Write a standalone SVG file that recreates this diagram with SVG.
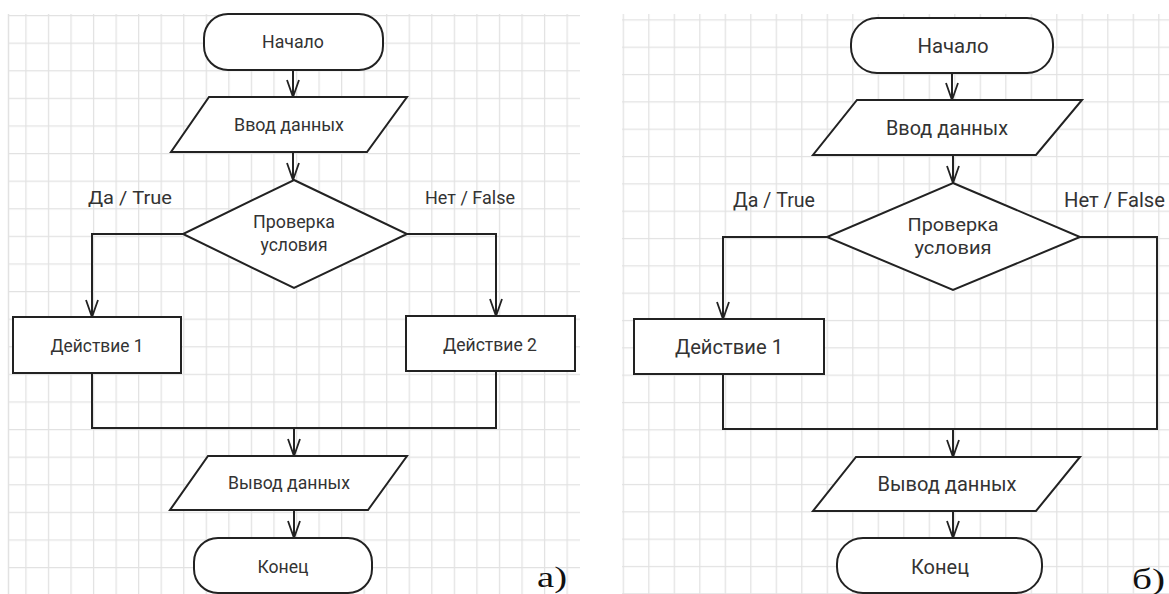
<svg xmlns="http://www.w3.org/2000/svg" width="1169" height="594" viewBox="0 0 1169 594">
<style>
.shape{fill:#fff;stroke:#222;stroke-width:2}
.conn{fill:none;stroke:#222;stroke-width:2}
.t{font-family:Roboto,"Liberation Sans",sans-serif;fill:#333;text-anchor:middle}
.ta{font-size:19px}
.tb{font-size:21px}
.tc{font-size:19px}
.lbl{font-family:Roboto,"Liberation Sans",sans-serif;fill:#333}
.ser{font-family:"Liberation Serif",serif;font-size:30px;fill:#111}
</style>
<defs>
<pattern id="gridA" patternUnits="userSpaceOnUse" x="2.75" y="15" width="22.55" height="27.6">
<path d="M0.5,0 V27.6 M0,0.5 H22.55" fill="none" stroke="#e2e2e2" stroke-width="1.5"/>
</pattern>
<pattern id="gridB" patternUnits="userSpaceOnUse" x="622.7" y="19.3" width="25.5" height="27.33">
<path d="M0.5,0 V27.33 M0,0.5 H25.5" fill="none" stroke="#e2e2e2" stroke-width="1.5"/>
</pattern>
<marker id="arr" markerUnits="userSpaceOnUse" viewBox="-20 -10 22 20" markerWidth="22" markerHeight="20" refX="0" refY="0" orient="auto" overflow="visible">
<path d="M-17,-6 L0,0 L-17,6" fill="none" stroke="#222" stroke-width="1.8"/>
</marker>
</defs>
<rect width="1169" height="594" fill="#fff"/>
<g id="grid">
<rect x="8" y="14" width="572" height="580" fill="url(#gridA)"/>
<line x1="8.5" y1="14" x2="8.5" y2="594" stroke="#e2e2e2" stroke-width="1.5"/>
<rect x="622" y="14" width="547" height="580" fill="url(#gridB)"/>
</g>
<g id="connectors">
<path class="conn" d="M293,70 V97" marker-end="url(#arr)"/>
<path class="conn" d="M293,152 V180" marker-end="url(#arr)"/>
<path class="conn" d="M183,234 H92 V317" marker-end="url(#arr)"/>
<path class="conn" d="M407,234 H496 V316" marker-end="url(#arr)"/>
<path class="conn" d="M92,373 V428 H496 V371"/>
<path class="conn" d="M294,428 V456" marker-end="url(#arr)"/>
<path class="conn" d="M294,510 V538" marker-end="url(#arr)"/>
<path class="conn" d="M952,73 V100" marker-end="url(#arr)"/>
<path class="conn" d="M953,155 V183" marker-end="url(#arr)"/>
<path class="conn" d="M827,237 H723 V319" marker-end="url(#arr)"/>
<path class="conn" d="M1080,237 H1157 V429 H953"/>
<path class="conn" d="M723,374 V429 H953"/>
<path class="conn" d="M953,429 V457" marker-end="url(#arr)"/>
<path class="conn" d="M953,511 V538" marker-end="url(#arr)"/>
</g>
<g id="a-start"><rect class="shape" x="204" y="14" width="179" height="56" rx="24"/><text class="t ta" x="293" y="48" textLength="62" lengthAdjust="spacingAndGlyphs">Начало</text></g>
<g id="a-input"><polygon class="shape" points="209,97 407,97 367,152 171,152"/><text class="t ta" x="289" y="131" textLength="110" lengthAdjust="spacingAndGlyphs">Ввод данных</text></g>
<g id="a-cond"><polygon class="shape" points="294,180 407,234 294,288 183,234"/><text class="t tc" x="294" y="228" textLength="82" lengthAdjust="spacingAndGlyphs">Проверка</text><text class="t tc" x="294" y="251" textLength="67" lengthAdjust="spacingAndGlyphs">условия</text></g>
<g id="a-act1"><rect class="shape" x="13" y="317" width="168" height="56"/><text class="t ta" x="97" y="352" textLength="93" lengthAdjust="spacingAndGlyphs">Действие 1</text></g>
<g id="a-act2"><rect class="shape" x="406" y="316" width="169" height="55"/><text class="t ta" x="490" y="351" textLength="94" lengthAdjust="spacingAndGlyphs">Действие 2</text></g>
<g id="a-output"><polygon class="shape" points="208,456 407,456 368,510 170,510"/><text class="t ta" x="289" y="489" textLength="122" lengthAdjust="spacingAndGlyphs">Вывод данных</text></g>
<g id="a-end"><rect class="shape" x="194" y="538" width="178" height="55" rx="24"/><text class="t ta" x="283" y="573" textLength="51" lengthAdjust="spacingAndGlyphs">Конец</text></g>
<text class="lbl ta" x="88" y="204" textLength="84" lengthAdjust="spacingAndGlyphs">Да / True</text>
<text class="lbl ta" x="425" y="204" textLength="90" lengthAdjust="spacingAndGlyphs">Нет / False</text>
<text class="ser" x="537" y="587" textLength="30" lengthAdjust="spacingAndGlyphs">а)</text>
<g id="b-start"><rect class="shape" x="851" y="18" width="202" height="55" rx="26"/><text class="t tb" x="953" y="53" textLength="71" lengthAdjust="spacingAndGlyphs">Начало</text></g>
<g id="b-input"><polygon class="shape" points="857,100 1082,100 1036,155 813,155"/><text class="t tb" x="947" y="135" textLength="122" lengthAdjust="spacingAndGlyphs">Ввод данных</text></g>
<g id="b-cond"><polygon class="shape" points="953,183 1080,237 953,290 827,237"/><text class="t tc" x="953" y="231" textLength="91" lengthAdjust="spacingAndGlyphs">Проверка</text><text class="t tc" x="953" y="254" textLength="77" lengthAdjust="spacingAndGlyphs">условия</text></g>
<g id="b-act1"><rect class="shape" x="634" y="319" width="190" height="55"/><text class="t tb" x="729" y="354" textLength="108" lengthAdjust="spacingAndGlyphs">Действие 1</text></g>
<g id="b-output"><polygon class="shape" points="856,457 1080,457 1036,511 813,511"/><text class="t tb" x="947" y="491" textLength="139" lengthAdjust="spacingAndGlyphs">Вывод данных</text></g>
<g id="b-end"><rect class="shape" x="837" y="538" width="205" height="55" rx="26"/><text class="t tb" x="940" y="574" textLength="58" lengthAdjust="spacingAndGlyphs">Конец</text></g>
<text class="lbl tb" x="733" y="207" textLength="82" lengthAdjust="spacingAndGlyphs">Да / True</text>
<text class="lbl tb" x="1064" y="207" textLength="101" lengthAdjust="spacingAndGlyphs">Нет / False</text>
<text class="ser" x="1132" y="589" textLength="33" lengthAdjust="spacingAndGlyphs">б)</text>
</svg>
